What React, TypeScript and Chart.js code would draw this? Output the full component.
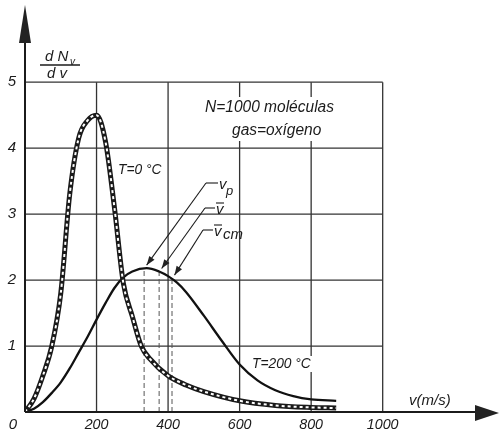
import React, { useEffect, useRef } from "react";
import { Chart, registerables } from "chart.js";
Chart.register(...registerables);

// T = 0 °C curve (drawn as thick dashed "railroad" line)
const speedsCold = [0, 25, 50, 75, 100, 125, 150, 175, 200, 225, 250, 275, 300, 325, 350, 400, 450, 500, 600, 700, 800, 870];
const densityCold = [0, 0.2, 0.55, 1.0, 1.8, 3.3, 4.15, 4.42, 4.5, 4.1, 3.1, 1.95, 1.45, 1.0, 0.8, 0.55, 0.41, 0.31, 0.17, 0.1, 0.07, 0.06];
// T = 200 °C curve
const speedsHot = [0, 25, 50, 75, 100, 125, 150, 175, 200, 225, 250, 275, 300, 340, 375, 400, 425, 450, 500, 550, 600, 650, 700, 750, 800, 870];
const densityHot = [0, 0.05, 0.15, 0.29, 0.45, 0.66, 0.9, 1.14, 1.4, 1.65, 1.88, 2.04, 2.13, 2.18, 2.13, 2.06, 1.96, 1.82, 1.46, 1.08, 0.72, 0.48, 0.33, 0.24, 0.19, 0.17];
// characteristic speeds (v_p, v-bar, v-bar_cm) for 200 °C
const markerSpeeds = [333, 375, 411];
const markerHeights = [2.18, 2.13, 2.03];
const xTicks = [200, 400, 600, 800, 1000];
const yTicks = [1, 2, 3, 4, 5];

const FONT = "'Liberation Sans', Arial, sans-serif";
const INK = "#1b1b1b";

function App() {
  const ref = useRef<HTMLCanvasElement | null>(null);
  useEffect(() => {
    const canvas = ref.current;
    if (!canvas) return;

    const text = (ctx: CanvasRenderingContext2D, s: string, x: number, y: number, size: number, align: CanvasTextAlign = "left", sx = 1) => {
      ctx.save();
      ctx.font = `italic ${size}px ${FONT}`;
      ctx.fillStyle = INK;
      ctx.textAlign = align;
      ctx.textBaseline = "middle";
      ctx.translate(x, y);
      ctx.scale(sx, 1);
      ctx.fillText(s, 0, 0);
      ctx.restore();
    };
    const seg = (ctx: CanvasRenderingContext2D, x1: number, y1: number, x2: number, y2: number) => {
      ctx.beginPath();
      ctx.moveTo(x1, y1);
      ctx.lineTo(x2, y2);
      ctx.stroke();
    };
    const arrowHead = (ctx: CanvasRenderingContext2D, fx: number, fy: number, tx: number, ty: number, len: number, hw: number) => {
      const a = Math.atan2(ty - fy, tx - fx);
      const bx = tx - len * Math.cos(a), by = ty - len * Math.sin(a);
      ctx.beginPath();
      ctx.moveTo(tx, ty);
      ctx.lineTo(bx + hw * Math.sin(a), by - hw * Math.cos(a));
      ctx.lineTo(bx - hw * Math.sin(a), by + hw * Math.cos(a));
      ctx.closePath();
      ctx.fill();
    };

    const overlay = {
      id: "overlay",
      beforeDatasetsDraw(chart: any) {
        const { ctx, scales } = chart;
        const x = scales.x, y = scales.y;
        ctx.save();
        ctx.strokeStyle = "#333";
        ctx.lineWidth = 1.3;
        const x0 = x.getPixelForValue(0), x1 = x.getPixelForValue(1000);
        const y0 = y.getPixelForValue(0), y5 = y.getPixelForValue(5);
        for (const t of yTicks) {
          const py = y.getPixelForValue(t);
          seg(ctx, x0, py, x1, py);
        }
        for (const t of xTicks) {
          const px = x.getPixelForValue(t);
          seg(ctx, px, y0, px, y5);
        }
        // white boxes behind the info text
        ctx.fillStyle = "#fff";
        ctx.fillRect(203, 97, 142, 44);
        ctx.fillRect(248, 356, 72, 16);
        ctx.restore();
      },
      afterDatasetsDraw(chart: any) {
        const { ctx, scales } = chart;
        const x = scales.x, y = scales.y;
        const x0 = x.getPixelForValue(0);
        const y0 = y.getPixelForValue(0);
        ctx.save();
        ctx.strokeStyle = INK;
        ctx.fillStyle = "#222";
        ctx.lineWidth = 2;
        // y axis with arrow
        seg(ctx, x0, y0, x0, 30);
        ctx.beginPath();
        ctx.moveTo(x0, 5);
        ctx.lineTo(x0 - 6, 43);
        ctx.lineTo(x0 + 6, 43);
        ctx.closePath();
        ctx.fill();
        // x axis with arrow
        seg(ctx, x0, y0, 480, y0);
        ctx.beginPath();
        ctx.moveTo(499, y0 + 1);
        ctx.lineTo(475, y0 - 7);
        ctx.lineTo(475, y0 + 9);
        ctx.closePath();
        ctx.fill();

        // tick labels
        for (const t of yTicks) text(ctx, String(t), 12, y.getPixelForValue(t), 15, "center");
        text(ctx, "0", 13, y0 + 13, 15, "center");
        for (const t of xTicks) text(ctx, String(t), x.getPixelForValue(t), y0 + 13, 15, "center", 0.95);
        text(ctx, "v(m/s)", 409, y0 - 11, 15, "left");

        // y axis title dNv/dv
        text(ctx, "d N", 45, 57, 15, "left");
        text(ctx, "v", 70, 62, 10, "left");
        ctx.lineWidth = 1.5;
        seg(ctx, 40, 65, 80, 65);
        text(ctx, "d v", 47, 74, 15, "left");

        // info
        text(ctx, "N=1000 moléculas", 205, 108, 16, "left", 0.97);
        text(ctx, "gas=oxígeno", 232, 131, 16, "left", 0.97);
        text(ctx, "T=0 °C", 118, 170, 15, "left", 0.92);
        text(ctx, "T=200 °C", 252, 364, 15, "left", 0.92);

        // leader lines with arrowheads to the curve
        const elbows = [[206, 183, 218], [205, 208, 215], [203, 230, 213]];
        ctx.lineWidth = 1.1;
        markerSpeeds.forEach((ms, i) => {
          const tx = x.getPixelForValue(ms) + 2.5;
          const ty = y.getPixelForValue(markerHeights[i]) - 3;
          const [ex, ey, hx] = elbows[i];
          seg(ctx, hx, ey, ex, ey);
          seg(ctx, ex, ey, tx, ty);
          arrowHead(ctx, ex, ey, tx, ty, 9, 3.2);
        });
        // labels v_p, v-bar, v-bar_cm
        text(ctx, "v", 219, 185, 15, "left");
        text(ctx, "p", 226, 191, 13, "left");
        text(ctx, "v", 216, 210, 15, "left");
        seg(ctx, 216, 203, 224, 203);
        text(ctx, "v", 214, 232, 15, "left");
        seg(ctx, 214, 225, 222, 225);
        text(ctx, "cm", 223, 235, 15, "left");
        ctx.restore();
      },
    };

    const pts = (xs: number[], ys: number[]) => xs.map((v, i) => ({ x: v, y: ys[i] }));
    const markerSets = markerSpeeds.map((ms, i) => ({
      data: [{ x: ms, y: 0 }, { x: ms, y: markerHeights[i] }],
      borderColor: "#555",
      borderWidth: 1,
      borderDash: [5, 3],
      pointRadius: 0,
      order: 3,
    }));

    const chart = new Chart(canvas, {
      type: "line",
      data: {
        datasets: [
          {
            data: pts(speedsCold, densityCold),
            borderColor: "#fff",
            borderWidth: 2,
            borderDash: [3, 3],
            pointRadius: 0,
            cubicInterpolationMode: "monotone",
            order: 0,
          },
          {
            data: pts(speedsCold, densityCold),
            borderColor: "#1a1a1a",
            borderWidth: 5,
            pointRadius: 0,
            cubicInterpolationMode: "monotone",
            order: 1,
          },
          {
            data: pts(speedsHot, densityHot),
            borderColor: "#111",
            borderWidth: 2.3,
            pointRadius: 0,
            cubicInterpolationMode: "monotone",
            order: 2,
          },
          ...markerSets,
        ] as any,
      },
      options: {
        responsive: false,
        animation: false,
        events: [],
        layout: { padding: { left: 25, right: 10, top: 3, bottom: 24 } },
        plugins: { legend: { display: false }, tooltip: { enabled: false } },
        scales: {
          x: { type: "linear", min: 0, max: 1300, display: false },
          y: { type: "linear", min: 0, max: 6.2, display: false },
        },
      } as any,
      plugins: [overlay],
    });
    return () => chart.destroy();
  }, []);

  return (
    <div style={{ position: "absolute", left: 0, top: 0, width: 500, height: 436, background: "#fff" }}>
      <canvas ref={ref} width={500} height={436} style={{ display: "block" }} />
    </div>
  );
}

export default App;
